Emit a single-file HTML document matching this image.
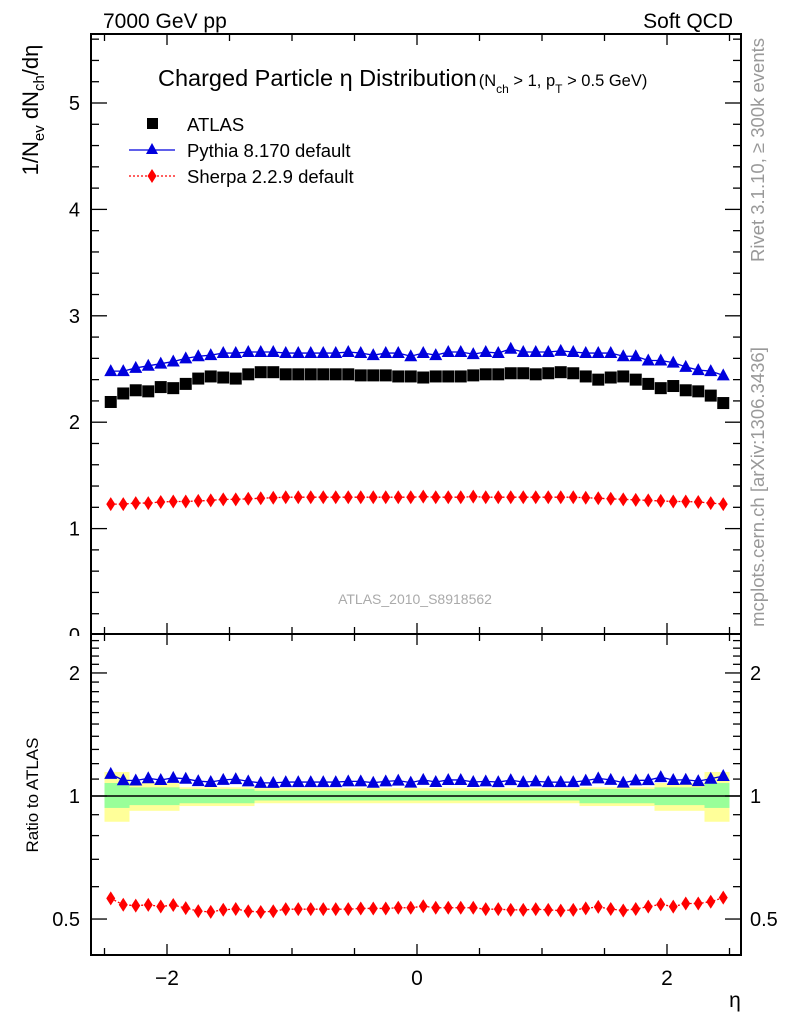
<!DOCTYPE html>
<html><head><meta charset="utf-8"><style>
body{margin:0;background:#fff;}
svg{display:block;font-family:"Liberation Sans",sans-serif;}
</style></head><body>
<svg id="chart" width="786" height="1024" viewBox="0 0 786 1024">
<defs><clipPath id="topclip"><rect x="0" y="0" width="786" height="636"/></clipPath></defs>
<g id="bands"></g>
<g id="frame"></g>
<g id="marks"></g>
<text x="103" y="28" font-size="21">7000 GeV pp</text>
<text x="733" y="28" font-size="21" text-anchor="end">Soft QCD</text>
<text x="158" y="86" font-size="23.5">Charged Particle η Distribution<tspan font-size="16.5" dx="2">(N</tspan><tspan font-size="12" dy="7">ch</tspan><tspan font-size="16.5" dy="-7"> &gt; 1, p</tspan><tspan font-size="12" dy="7">T</tspan><tspan font-size="16.5" dy="-7"> &gt; 0.5 GeV)</tspan></text>
<g>
<rect x="147" y="118" width="11" height="11" fill="#000"/>
<text x="187" y="131" font-size="18.5">ATLAS</text>
<line x1="129" y1="150" x2="175" y2="150" stroke="#0000dd" stroke-width="1.3"/>
<polygon points="152,143 146,154 158,154" fill="#0000dd"/>
<text x="187" y="157" font-size="18.5">Pythia 8.170 default</text>
<line x1="129" y1="176" x2="175" y2="176" stroke="#f00" stroke-width="1.3" stroke-dasharray="2,2"/>
<polygon points="152,169 156.5,176 152,183 147.5,176" fill="#f00"/>
<text x="187" y="183" font-size="18.5">Sherpa 2.2.9 default</text>
</g>
<text x="415" y="604" font-size="14" fill="#aaa" text-anchor="middle">ATLAS_2010_S8918562</text>
<text transform="translate(764,150) rotate(-90)" font-size="18.5" fill="#999" text-anchor="middle">Rivet 3.1.10, ≥ 300k events</text>
<text transform="translate(764,487) rotate(-90)" font-size="18.5" fill="#999" text-anchor="middle">mcplots.cern.ch [arXiv:1306.3436]</text>
<text transform="translate(38,110) rotate(-90)" font-size="22" text-anchor="middle">1/N<tspan font-size="15" dy="6">ev</tspan><tspan dy="-6"> dN</tspan><tspan font-size="15" dy="6">ch</tspan><tspan dy="-6">/dη</tspan></text>
<text transform="translate(38,795) rotate(-90)" font-size="17" text-anchor="middle">Ratio to ATLAS</text>
<text x="735" y="1007" font-size="21" text-anchor="middle">η</text>
</svg>
<script>
const etaCenters = [-2.45,-2.35,-2.25,-2.15,-2.05,-1.95,-1.85,-1.75,-1.65,-1.55,-1.45,-1.35,-1.25,-1.15,-1.05,-0.95,-0.85,-0.75,-0.65,-0.55,-0.45,-0.35,-0.25,-0.15,-0.05,0.05,0.15,0.25,0.35,0.45,0.55,0.65,0.75,0.85,0.95,1.05,1.15,1.25,1.35,1.45,1.55,1.65,1.75,1.85,1.95,2.05,2.15,2.25,2.35,2.45];
const atlasValues = [2.19,2.27,2.30,2.29,2.33,2.32,2.36,2.41,2.43,2.42,2.41,2.45,2.47,2.47,2.45,2.45,2.45,2.45,2.45,2.45,2.44,2.44,2.44,2.43,2.43,2.42,2.43,2.43,2.43,2.44,2.45,2.45,2.46,2.46,2.45,2.46,2.47,2.46,2.43,2.40,2.42,2.43,2.40,2.36,2.32,2.34,2.30,2.29,2.25,2.18];
const pythiaValues = [2.48,2.48,2.51,2.53,2.55,2.57,2.60,2.62,2.63,2.65,2.65,2.66,2.66,2.66,2.65,2.65,2.65,2.65,2.65,2.66,2.65,2.63,2.65,2.65,2.62,2.65,2.63,2.66,2.66,2.64,2.66,2.65,2.69,2.66,2.66,2.66,2.67,2.66,2.65,2.65,2.65,2.62,2.62,2.58,2.58,2.56,2.52,2.49,2.48,2.44];
const sherpaValues = [1.23,1.23,1.24,1.24,1.25,1.255,1.255,1.26,1.265,1.275,1.275,1.28,1.285,1.29,1.295,1.295,1.295,1.295,1.295,1.295,1.295,1.295,1.295,1.295,1.295,1.30,1.295,1.295,1.295,1.30,1.295,1.295,1.295,1.295,1.295,1.295,1.295,1.295,1.29,1.285,1.28,1.275,1.27,1.265,1.26,1.255,1.255,1.25,1.24,1.23];
const bandEdges = [-2.5,-2.3,-1.9,-1.3,1.3,1.9,2.3,2.5];
const bandYellowLow = [0.865,0.92,0.945,0.96,0.945,0.92,0.865];
const bandYellowHigh = [1.145,1.076,1.05,1.045,1.05,1.076,1.145];
const bandGreenLow = [0.935,0.95,0.96,0.975,0.96,0.95,0.935];
const bandGreenHigh = [1.076,1.05,1.04,1.03,1.04,1.05,1.076];
const mainYTicks = [0,1,2,3,4,5];
const ratioYTicks = [0.5,1,2];
const xTicks = [-2,0,2];

const NS="http://www.w3.org/2000/svg";
const L=91,R=741,T=34,M=634,B=955;
const xs=e=>417+125*e;
const ym=v=>635-106.4*v;
const yr=r=>796-177.5*Math.log(r);
function mk(tag,attrs,parent){const el=document.createElementNS(NS,tag);for(const k in attrs)el.setAttribute(k,attrs[k]);parent.appendChild(el);return el;}
const frame=document.getElementById('frame'),marks=document.getElementById('marks'),bands=document.getElementById('bands');

for(let i=0;i<bandEdges.length-1;i++){
  const x1=xs(bandEdges[i]),x2=xs(bandEdges[i+1]);
  const yb=mk('rect',{x:x1,y:yr(bandYellowHigh[i]),width:x2-x1,height:yr(bandYellowLow[i])-yr(bandYellowHigh[i]),fill:'#ffff99'},bands);
  
  
  const gb=mk('rect',{x:x1,y:yr(bandGreenHigh[i]),width:x2-x1,height:yr(bandGreenLow[i])-yr(bandGreenHigh[i]),fill:'#99ff99'},bands);
  
  
}
mk('line',{x1:L,y1:yr(1),x2:R,y2:yr(1),stroke:'#000','stroke-width':1.5},bands);

mk('rect',{x:L,y:T,width:R-L,height:B-T,fill:'none',stroke:'#000','stroke-width':2},frame);
mk('line',{x1:L,y1:M,x2:R,y2:M,stroke:'#000','stroke-width':2},frame);
for(let e=-2.5;e<=2.51;e+=0.5){
  const x=xs(e),maj=Math.abs(e-Math.round(e))<0.01&&Math.round(e)%2===0;const len=maj?11:7;
  mk('line',{x1:x,y1:T,x2:x,y2:T+len,stroke:'#000','stroke-width':1.3},frame);
  mk('line',{x1:x,y1:M-len,x2:x,y2:M+len,stroke:'#000','stroke-width':1.3},frame);
  mk('line',{x1:x,y1:B,x2:x,y2:B-len,stroke:'#000','stroke-width':1.3},frame);
}
xTicks.forEach(v=>{const t=mk('text',{x:xs(v),y:B+30,'font-size':21,'text-anchor':'middle'},frame);t.textContent=v<0?'−'+Math.abs(v):String(v);

});
for(let v=0.2;v<5.65;v+=0.2){const y=ym(v);const maj=Math.abs(v-Math.round(v))<0.01;const len=maj?16:8;
  mk('line',{x1:L,y1:y,x2:L+len,y2:y,stroke:'#000','stroke-width':1.3},frame);
  mk('line',{x1:R,y1:y,x2:R-len,y2:y,stroke:'#000','stroke-width':1.3},frame);}
mainYTicks.forEach(v=>{const t=mk('text',{x:80,y:ym(v)+7,'font-size':20,'text-anchor':'end','clip-path':'url(#topclip)'},frame);t.textContent=String(v);

});
for(let r=0.5;r<2.45;r+=0.1){const y=yr(r);if(y<M||y>B)continue;const maj=ratioYTicks.some(m=>Math.abs(m-r)<0.01);const len=maj?16:8;
  mk('line',{x1:L,y1:y,x2:L+len,y2:y,stroke:'#000','stroke-width':1.3},frame);
  mk('line',{x1:R,y1:y,x2:R-len,y2:y,stroke:'#000','stroke-width':1.3},frame);}
ratioYTicks.forEach(v=>{const a=mk('text',{x:80,y:yr(v)+7,'font-size':20,'text-anchor':'end'},frame);a.textContent=String(v);


const b=mk('text',{x:750,y:yr(v)+7,'font-size':20},frame);b.textContent=String(v);

});

function line(vals,yf,color,dash,name){const p=mk('polyline',{points:etaCenters.map((e,i)=>xs(e)+','+yf(vals[i])).join(' '),fill:'none',stroke:color,'stroke-width':1.3},marks);if(dash)p.setAttribute('stroke-dasharray',dash);

}
function tri(x,y){const p=mk('polygon',{points:`${x},${y-7} ${x-6.5},${y+5} ${x+6.5},${y+5}`,fill:'#0000dd'},marks);

}
function dia(x,y){const p=mk('polygon',{points:`${x},${y-7} ${x+4.5},${y} ${x},${y+7} ${x-4.5},${y}`,fill:'#f00'},marks);

}
line(pythiaValues,ym,'#0000dd',null,'pythia-line');
line(sherpaValues,ym,'#f00','2,2','sherpa-line');
etaCenters.forEach((e,i)=>{const x=xs(e);
  const s=mk('rect',{x:x-6,y:ym(atlasValues[i])-6,width:12,height:12,fill:'#000'},marks);
  
  
  tri(x,ym(pythiaValues[i]));dia(x,ym(sherpaValues[i]));});
const pr=pythiaValues.map((v,i)=>v/atlasValues[i]),sr=sherpaValues.map((v,i)=>v/atlasValues[i]);
line(pr,yr,'#0000dd',null,'pythia-ratio-line');
line(sr,yr,'#f00','2,2','sherpa-ratio-line');
etaCenters.forEach((e,i)=>{const x=xs(e);tri(x,yr(pr[i]));dia(x,yr(sr[i]));});
</script>
</body></html>
